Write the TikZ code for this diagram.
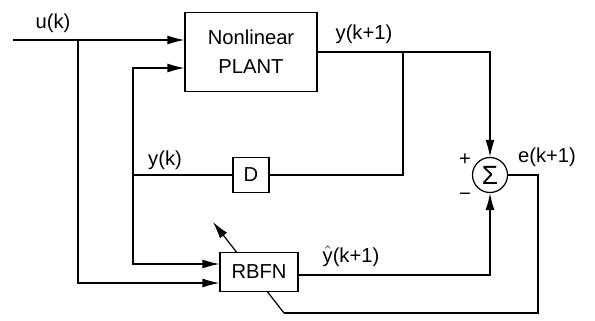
\documentclass[tikz,border=0pt]{standalone}
\usepackage{fontspec}
\setmainfont{Liberation Sans}
\usetikzlibrary{positioning, arrows.meta, calc}
\tikzset{
  blockbox/.style={draw, fill=white, line width=0.7pt, inner sep=0pt},
  wire/.style={line width=0.7pt},
  sigarrow/.style={wire, -{Latex[length=3.4mm,width=1.8mm]}},
  lbl/.style={inner sep=1pt}
}

\begin{document}
\begin{tikzpicture}[x=0.02cm, y=-0.02cm, font=\fontsize{11.5}{16.5}\selectfont]
        \useasboundingbox (0,0) rectangle (595,321);
        % blocks
        \node[blockbox, minimum width=2.64cm, minimum height=1.58cm, align=center] (plant) at (251,52) {Nonlinear\\PLANT};
        \node[blockbox, minimum width=0.72cm, minimum height=0.7cm] (delay) at (251,175) {D};
        \node[blockbox, circle, minimum size=0.7cm, font=\fontsize{15}{15}\selectfont] (sum) at (490,175) {Σ};
        % adaptation arrow, drawn under the RBFN box
        \coordinate (etail) at (284,313);
        \coordinate (etip) at (213,222);
        \draw[sigarrow] (etail) -- (etip);
        \node[blockbox, minimum width=1.56cm, minimum height=0.78cm] (rbfn) at (259,272) {RBFN};
        % branch points
        \coordinate (uin) at (13,40);
        \coordinate (ubr) at (78,40);
        \coordinate (ybr) at (133,175);
        \coordinate (ytap) at (403,52);
        \coordinate (ecor) at (538,313);
        % connectors
        \draw[sigarrow] (uin) -- (plant.west |- uin);
        \draw[sigarrow] (ubr) |- (rbfn.west |- 0,283);
        \draw[sigarrow] (ybr) |- (plant.west |- 0,68);
        \draw[sigarrow] (ybr) |- (rbfn.west |- 0,264);
        \draw[wire] (delay.west) -- (ybr);
        \draw[sigarrow] (plant.east) -| (sum.north);
        \draw[wire] (ytap) |- (delay.east);
        \draw[sigarrow] (rbfn.east |- 0,275) -| (sum.south);
        \draw[wire] (sum.east) -| (ecor) -- (etail);
        % labels
        \node[lbl] (ulbl) at (53,23) {u(k)};
        \node[lbl] (yklbl) at (165,160) {y(k)};
        \node[lbl] (ynlbl) at (364,34) {y(k+1)};
        \node[lbl] (yhatlbl) at (351,256) {$\hat{\mbox{y}}$(k+1)};
        \node[lbl] (elbl) at (547,157) {e(k+1)};
        \node[lbl] (plbl) at (465,160) {+};
        \node[lbl] (mlbl) at (465,197) {−};
      \end{tikzpicture}
\end{document}
